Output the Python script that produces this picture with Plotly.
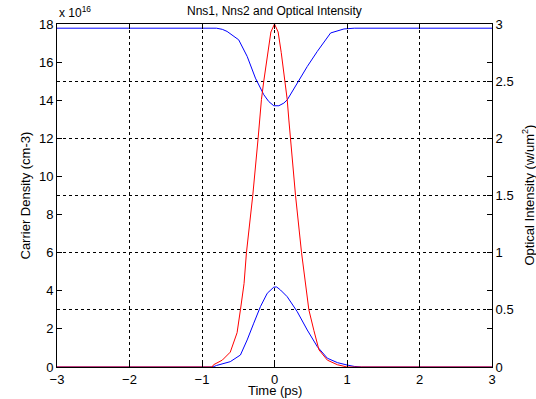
import plotly.graph_objects as go

# Optical intensity (right axis, w/um^2)
t_int = [-3.0, -0.86, -0.84, -0.72, -0.61, -0.516, -0.47, -0.452, -0.42, -0.387, -0.30, -0.226,
         -0.18, -0.148, -0.093, -0.05, 0.0, 0.05, 0.093, 0.142, 0.175, 0.198, 0.221, 0.29,
         0.373, 0.452, 0.474, 0.543, 0.613, 0.729, 0.867, 1.0, 3.0]
intensity = [0.0, 0.0, 0.02, 0.06, 0.13, 0.30, 0.50, 0.587, 0.73, 1.0, 1.5, 2.0,
             2.34, 2.5, 2.75, 2.93, 3.0, 2.93, 2.75, 2.5, 2.34, 2.16, 2.0, 1.5,
             1.0, 0.587, 0.5, 0.32, 0.15, 0.06, 0.02, 0.0, 0.0]

# Nns1 (upper carrier density curve, x 1e16 cm^-3)
t_n1 = [-3.0, -0.8, -0.72, -0.654, -0.494, -0.377, -0.263, -0.148, -0.079, -0.01, 0.06,
        0.129, 0.176, 0.314, 0.452, 0.59, 0.774, 0.958, 1.1, 3.0]
nns1 = [17.78, 17.78, 17.72, 17.61, 17.17, 16.30, 15.16, 14.29, 13.93, 13.71, 13.71,
        13.85, 14.02, 14.90, 15.77, 16.56, 17.53, 17.74, 17.78, 17.78]

# Nns2 (lower carrier density curve, x 1e16 cm^-3)
t_n2 = [-3.0, -0.85, -0.8, -0.7, -0.61, -0.47, -0.377, -0.286, -0.194, -0.10, -0.01, 0.03,
        0.083, 0.175, 0.314, 0.452, 0.59, 0.729, 0.867, 1.005, 1.1, 1.2, 3.0]
nns2 = [0.0, 0.0, 0.08, 0.18, 0.28, 0.63, 1.42, 2.30, 3.17, 3.87, 4.19, 4.20,
        4.04, 3.69, 2.90, 1.94, 1.07, 0.46, 0.23, 0.10, 0.03, 0.0, 0.0]

x_ticks = [-3, -2, -1, 0, 1, 2, 3]
left_ticks = [0, 2, 4, 6, 8, 10, 12, 14, 16, 18]
right_ticks = [0, 0.5, 1, 1.5, 2, 2.5, 3]
right_labels = ["0", "0.5", "1", "1.5", "2", "2.5", "3"]

FONT = "Liberation Sans, Arial, Helvetica, sans-serif"

fig = go.Figure()
fig.add_trace(go.Scatter(x=t_n1, y=nns1, mode="lines", line=dict(color="#0000FF", width=1),
                         yaxis="y", showlegend=False))
fig.add_trace(go.Scatter(x=t_n2, y=nns2, mode="lines", line=dict(color="#0000FF", width=1),
                         yaxis="y", showlegend=False))
fig.add_trace(go.Scatter(x=t_int, y=intensity, mode="lines", line=dict(color="#FF0000", width=1),
                         yaxis="y2", showlegend=False))

axis_common = dict(showline=True, linecolor="black", linewidth=1, ticks="inside",
                   ticklen=5, tickcolor="black", tickwidth=1, zeroline=False,
                   tickfont=dict(family=FONT, size=13, color="black"))

fig.update_layout(
    width=536, height=399,
    margin=dict(l=57, r=44, t=24, b=32),
    paper_bgcolor="white", plot_bgcolor="white",
    font=dict(family=FONT, size=12, color="black"),
    xaxis=dict(range=[-3, 3], tickvals=x_ticks, mirror="ticks", showgrid=True,
               gridcolor="black", gridwidth=1, griddash="3px,3px", **axis_common),
    yaxis=dict(range=[0, 18], tickvals=left_ticks, mirror="ticks", showgrid=False,
               **axis_common),
    yaxis2=dict(range=[0, 3], tickvals=right_ticks, ticktext=right_labels, overlaying="y",
                side="right", showgrid=True, gridcolor="black", gridwidth=1,
                griddash="3px,3px", **axis_common),
    annotations=[
        dict(text="Nns1, Nns2 and Optical Intensity", x=0.5, y=1, xref="paper", yref="paper",
             yanchor="bottom", yshift=4, showarrow=False, font=dict(size=12)),
        dict(text="x 10<sup>16</sup>", x=0, y=1, xref="paper", yref="paper", xanchor="left",
             yanchor="bottom", yshift=2, showarrow=False, font=dict(size=12)),
        dict(text="Time (ps)", x=0.5, y=0, xref="paper", yref="paper", yanchor="top",
             yshift=-14, showarrow=False, font=dict(size=13)),
        dict(text="Carrier Density (cm-3)", x=0, y=0.5, xref="paper", yref="paper",
             xanchor="center", xshift=-32, textangle=-90, showarrow=False, font=dict(size=13)),
        dict(text="Optical Intensity (w/um<sup>2</sup>)", x=1, y=0.5, xref="paper", yref="paper",
             xanchor="center", xshift=36, textangle=-90, showarrow=False, font=dict(size=13)),
    ],
)

fig.write_html("out.html", config={"displayModeBar": False},
               post_script="document.body.style.margin='0';")
